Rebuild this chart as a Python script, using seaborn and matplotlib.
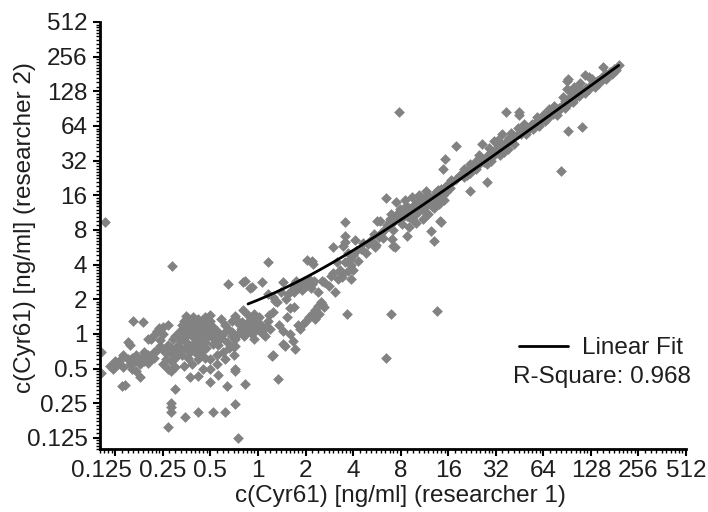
import numpy as np
import pandas as pd
import matplotlib
matplotlib.use("Agg")
import matplotlib.pyplot as plt
import matplotlib.ticker as mticker
import matplotlib.transforms as mtransforms
import seaborn as sns

# ---- data (researcher 1 value, researcher 2 value), ng/ml ----
pts_low = [
    (0.102, 0.70), (0.102, 0.46), (0.108, 9.4), (0.116, 0.53), (0.125, 0.58), (0.12, 0.50),
    (0.13, 0.55), (0.135, 0.60), (0.14, 0.52), (0.138, 0.35), (0.145, 0.36), (0.15, 0.85),
    (0.155, 0.80), (0.14, 0.65), (0.15, 0.60), (0.155, 0.55), (0.16, 0.62), (0.165, 0.57),
    (0.17, 0.66), (0.175, 0.60), (0.16, 0.50), (0.17, 0.48), (0.18, 0.55), (0.185, 0.62),
    (0.19, 0.70), (0.20, 0.65), (0.19, 0.58), (0.20, 0.56), (0.21, 0.60), (0.22, 0.70),
    (0.23, 0.72), (0.22, 0.62), (0.18, 0.42), (0.162, 1.30), (0.188, 1.27), (0.21, 0.90),
    (0.23, 1.06), (0.235, 1.12), (0.25, 1.00), (0.24, 0.78), (0.25, 0.72), (0.26, 0.68),
    (0.27, 0.80), (0.28, 0.75), (0.26, 0.60), (0.25, 0.55), (0.28, 0.58), (0.30, 0.62),
    (0.30, 0.70), (0.31, 0.80), (0.32, 0.75), (0.29, 0.90), (0.30, 0.95), (0.32, 0.88),
    (0.33, 1.00), (0.34, 0.92), (0.35, 0.85), (0.36, 0.80), (0.35, 1.10), (0.33, 1.20),
    (0.34, 1.30), (0.36, 1.35), (0.38, 1.30), (0.37, 1.20), (0.39, 1.10), (0.40, 1.00),
    (0.41, 0.90), (0.40, 1.25), (0.42, 1.35), (0.44, 1.20), (0.45, 1.05), (0.43, 0.95),
    (0.38, 0.95), (0.37, 0.70), (0.39, 0.75), (0.42, 0.80), (0.44, 0.72), (0.46, 0.85),
    (0.48, 0.95), (0.50, 1.00), (0.47, 1.15), (0.50, 1.30), (0.52, 1.15), (0.55, 1.05),
    (0.53, 0.90), (0.56, 0.80), (0.58, 0.92), (0.60, 1.00), (0.62, 1.20), (0.58, 1.35),
    (0.65, 1.10), (0.68, 0.95), (0.64, 0.85), (0.60, 0.70), (0.55, 0.65), (0.50, 0.60),
    (0.46, 0.62), (0.42, 0.60), (0.38, 0.55), (0.34, 0.53), (0.36, 0.62), (0.33, 0.65),
    (0.30, 0.52), (0.28, 0.48), (0.27, 0.50), (0.30, 0.33), (0.28, 0.25), (0.28, 0.23),
    (0.28, 0.21), (0.27, 0.155), (0.345, 0.19), (0.42, 0.21), (0.52, 0.21), (0.62, 0.21),
    (0.72, 0.246), (0.75, 0.125), (0.83, 0.37), (0.72, 0.48), (0.64, 0.35), (0.56, 0.44),
    (0.50, 0.38), (0.42, 0.43), (0.37, 0.42), (0.69, 0.79), (0.286, 3.9), (0.40, 0.70),
    (0.45, 0.50), (0.50, 0.50), (0.55, 0.55), (0.62, 0.60), (0.70, 0.65), (0.66, 0.75),
    (0.72, 0.90), (0.68, 1.30), (0.73, 1.35), (0.27, 1.20), (0.25, 1.15), (0.22, 0.98),
    (0.20, 0.90), (0.24, 0.88), (0.46, 1.40), (0.50, 1.45),
    (0.36, 1.00), (0.38, 1.05), (0.40, 0.85), (0.43, 1.10), (0.45, 0.92), (0.47, 1.00),
    (0.49, 1.10), (0.52, 1.02), (0.54, 0.95), (0.41, 1.18), (0.44, 1.30), (0.48, 1.22),
    (0.35, 0.95), (0.37, 1.12), (0.32, 1.05), (0.31, 0.98), (0.39, 1.40), (0.35, 1.42),
    (0.52, 0.82), (0.47, 0.75), (0.43, 0.68), (0.33, 0.72), (0.35, 0.75), (0.29, 0.65),
]

pts_mid = [
    (0.65, 2.7), (0.80, 2.83), (0.92, 2.56), (1.06, 2.83), (1.16, 4.2), (1.44, 2.83),
    (0.83, 2.9), (0.89, 2.5), (1.34, 0.405), (1.24, 0.66), (1.48, 0.79), (1.67, 0.87),
    (1.71, 0.74), (1.44, 0.82), (1.22, 0.64), (0.72, 0.50), (0.75, 1.0), (0.78, 1.1),
    (0.80, 1.2), (0.82, 0.95), (0.85, 1.05), (0.88, 1.3), (0.90, 1.15), (0.92, 1.0),
    (0.95, 0.9), (0.98, 1.1), (1.0, 1.25), (1.02, 1.4), (1.05, 1.2), (1.08, 1.0),
    (1.10, 0.95), (1.12, 1.15), (0.86, 1.45), (0.80, 1.6), (0.72, 1.43), (0.79, 1.27),
    (0.68, 1.04), (0.72, 0.79), (0.95, 1.5), (1.15, 1.3), (1.2, 1.1), (1.25, 1.55),
    (1.28, 1.94), (1.32, 1.9), (1.6, 1.68), (1.7, 1.7), (1.52, 1.4), (1.93, 1.22),
    (1.85, 1.1), (1.8, 1.2), (2.0, 1.3), (2.1, 1.4), (2.2, 1.5), (2.3, 1.6),
    (2.4, 1.75), (2.5, 1.9), (2.54, 1.8), (2.3, 1.35), (2.45, 1.5), (2.6, 1.7),
    (1.35, 1.2), (1.45, 1.05), (1.6, 1.0), (1.15, 2.2), (1.25, 2.1), (1.4, 2.3),
    (1.5, 2.0), (1.64, 2.4), (1.7, 2.6), (1.75, 2.9), (1.8, 2.5), (1.85, 2.7),
    (1.9, 2.4), (1.95, 2.8), (2.0, 2.6), (2.05, 2.9), (2.1, 3.0), (2.15, 2.5),
    (2.2, 2.7), (2.54, 2.9), (2.6, 2.8), (3.2, 3.0), (3.4, 3.1), (3.07, 2.3),
    (3.65, 1.5), (2.04, 4.4), (2.23, 4.06), (2.2, 4.3), (2.98, 5.7), (3.55, 6.3),
    (2.4, 2.3), (2.8, 2.6), (1.55, 2.2), (3.0, 3.4), (3.3, 3.6), (2.9, 3.2),
    (3.9, 3.0), (7.0, 1.5), (13.5, 1.58), (6.5, 0.62),
    (0.90, 1.35), (0.97, 1.25), (1.03, 1.05), (0.84, 1.18), (0.76, 1.22), (1.18, 1.45),
    (1.9, 2.6), (1.72, 2.75), (2.08, 2.75), (1.68, 2.3), (2.25, 2.9),
]

pts_upper = [
    (3.55, 9.4), (3.55, 7.1), (3.45, 5.8), (3.55, 4.2), (3.15, 4.2), (5.5, 5.7),
    (5.6, 5.9), (7.35, 5.7), (8.8, 7.1), (7.1, 6.7), (5.65, 9.6), (6.8, 9.6),
    (3.8, 4.5), (4.0, 4.8), (4.2, 5.2), (3.7, 5.0), (4.5, 5.5), (4.3, 4.3),
    (3.9, 4.0), (4.0, 3.6), (4.8, 5.0), (5.0, 6.0), (5.2, 6.5), (5.8, 7.0),
    (6.0, 7.5), (6.2, 6.8), (5.4, 7.4), (6.4, 8.2), (6.6, 8.8), (7.0, 9.0),
    (7.2, 8.0), (6.5, 15), (5.9, 9.6), (7.2, 5.8), (4.6, 6.1), (4.1, 6.6),
    (3.4, 3.3), (3.7, 3.5),
    (6.8, 10), (7.0, 11), (7.2, 9.5), (7.5, 10.5), (7.8, 11.5), (8.0, 10),
    (8.2, 9), (8.4, 12), (8.6, 11), (8.8, 10.5), (9.0, 12.5), (9.2, 11),
    (9.4, 10), (9.6, 13), (9.8, 12), (10, 11), (10.2, 14), (10.5, 12.5),
    (10.8, 13.5), (11, 12), (11.2, 15), (11.5, 13), (11.8, 14), (12, 16),
    (12.3, 14.5), (12.6, 13), (13, 15.5), (13.3, 17), (13.6, 15), (14, 16.5),
    (14.4, 18), (14.8, 16), (15.2, 19), (15.6, 17), (16, 20), (16.5, 18.5),
    (9, 8.5), (10, 9.2), (11, 10), (12, 11), (13, 12.5), (14, 13.5),
    (15, 14.5), (12.4, 7.9), (13, 6.4), (14.3, 9.4), (14.1, 9.6), (7.5, 14),
    (8.5, 14.5), (9.5, 15.5), (10.5, 16), (11.5, 17.5), (15.2, 33), (14.8, 27),
    (16.6, 21.5), (18, 43), (21, 24), (22, 17.5), (28, 21), (7.8, 85),
    (8.3, 10.8), (9.1, 10.4), (9.7, 11.2), (10.4, 11.8), (10.9, 14.6), (11.6, 15.4),
    (12.8, 14.2), (13.8, 17.8), (8.7, 12.8), (7.9, 12.2),
]

pts_top = [
    (17, 21), (18, 22), (19, 24), (20, 23), (21, 26), (22, 25), (23, 28), (24, 27),
    (25, 30), (26, 33), (27, 31), (28, 35), (29, 34), (30, 38), (31, 36), (32, 40),
    (33, 42), (34, 39), (35, 44), (36, 43), (37, 46), (38, 48), (39, 50), (40, 47),
    (42, 52), (44, 55), (46, 54), (48, 58), (50, 62), (52, 60), (54, 66), (56, 64),
    (58, 70), (60, 68), (26, 45), (31, 47), (35, 55), (37, 85), (45, 80), (45, 85),
    (22, 30), (24, 32), (28, 30), (30, 32), (34, 36), (38, 40), (20, 27), (25, 36),
    (29, 41), (33, 48), (40, 56), (44, 62), (48, 66), (36, 38), (42, 45), (50, 55),
    (55, 60),
    (62, 72), (64, 75), (66, 70), (68, 80), (70, 78), (72, 84), (74, 82), (76, 88),
    (78, 86), (80, 92), (82, 90), (84, 96), (86, 100), (88, 105), (90, 98), (92, 110),
    (95, 108), (98, 115), (100, 112), (104, 120), (108, 125), (112, 130), (116, 128),
    (120, 138), (124, 135), (128, 145), (132, 150), (136, 148), (140, 158), (145, 162),
    (150, 170), (155, 168), (160, 180), (165, 178), (170, 190), (180, 200), (192, 215),
    (153, 210), (125, 172), (118, 178), (92, 165), (90, 135), (91, 158), (95, 128),
    (100, 140), (110, 150), (130, 165), (92, 58), (112, 63), (83, 26), (70, 90),
    (75, 95), (85, 115), (65, 82), (58, 76), (60, 64), (68, 74), (78, 80), (88, 92),
    (98, 104), (108, 116), (118, 124), (135, 140), (145, 152), (160, 165), (175, 182),
    (185, 195),
]

# linear fit (y = a + b*x) and its x-range
fit_intercept = 0.855
fit_slope = 1.115
fit_x_start = 0.865
fit_x_end = 192.0
r_square = 0.968

tick_values = [0.125, 0.25, 0.5, 1, 2, 4, 8, 16, 32, 64, 128, 256, 512]
tick_labels = ["0.125", "0.25", "0.5", "1", "2", "4", "8", "16", "32", "64", "128", "256", "512"]

# ---- build frames ----
all_pts = pts_low + pts_mid + pts_upper + pts_top
df = pd.DataFrame(all_pts, columns=["r1", "r2"])
fit_x = np.geomspace(fit_x_start, fit_x_end, 200)
fit_df = pd.DataFrame({"x": fit_x, "y": fit_intercept + fit_slope * fit_x})

sns.set_style("ticks")
plt.rcParams["font.family"] = ["Liberation Sans", "DejaVu Sans"]

FS = 17.5
TXT = "#1e1e1e"

fig = plt.figure(figsize=(7.08, 5.12), dpi=100)
ax = fig.add_axes([100 / 708, 1 - 449 / 512, 586 / 708, 427 / 512])

sns.scatterplot(data=df, x="r1", y="r2", marker="D", s=30, color="#828282",
                linewidth=0, ax=ax, zorder=2)
sns.lineplot(data=fit_df, x="x", y="y", color="black", linewidth=2.0, ax=ax,
             zorder=3, label="Linear Fit")

ax.set_xscale("log", base=2)
ax.set_yscale("log", base=2)
ax.set_xlim(0.1, 512)
ax.set_ylim(0.1, 512)

for axis in (ax.xaxis, ax.yaxis):
    axis.set_major_locator(mticker.FixedLocator(tick_values))
    axis.set_major_formatter(mticker.FixedFormatter(tick_labels))
    axis.set_minor_locator(mticker.LogLocator(base=2, subs=np.arange(1.1, 2.0, 0.1), numticks=100))
    axis.set_minor_formatter(mticker.NullFormatter())

ax.tick_params(axis="both", which="major", direction="out", length=5, width=1.5,
               labelsize=FS, color="black", labelcolor=TXT)
ax.tick_params(axis="y", which="major", pad=4)
ax.tick_params(axis="x", which="major", pad=3)
ax.tick_params(axis="both", which="minor", direction="out", length=3, width=1.0, color="black")

for side in ("top", "right"):
    ax.spines[side].set_visible(False)
for side in ("left", "bottom"):
    ax.spines[side].set_linewidth(2.0)
    ax.spines[side].set_color("black")

ax.set_xlabel("c(Cyr61) [ng/ml] (researcher 1)", fontsize=FS, color=TXT)
ax.set_ylabel("c(Cyr61) [ng/ml] (researcher 2)", fontsize=FS, color=TXT)
ax.xaxis.set_label_coords(400 / 708, 1 - 496 / 512, transform=fig.transFigure)
ax.yaxis.set_label_coords(25 / 708, 1 - 228 / 512, transform=fig.transFigure)
ax.xaxis.label.set_va("center")
ax.yaxis.label.set_va("center")

# crowded first x tick label is nudged left, as in the reference
fig.canvas.draw()
first = ax.xaxis.get_major_ticks()[0].label1
first.set_transform(first.get_transform() +
                    mtransforms.ScaledTranslation(-14 / 100, 0, fig.dpi_scale_trans))

leg = ax.legend(loc="center left", bbox_to_anchor=(519 / 708, 1 - 348 / 512),
                bbox_transform=fig.transFigure, frameon=False, fontsize=FS,
                handlelength=2.0, handletextpad=0.6, borderpad=0, borderaxespad=0)
for t in leg.get_texts():
    t.set_color(TXT)
fig.text(513 / 708, 1 - 377 / 512, f"R-Square: {r_square:.3f}", fontsize=FS,
         va="center", ha="left", color=TXT)

fig.savefig("out.png", dpi=100)
